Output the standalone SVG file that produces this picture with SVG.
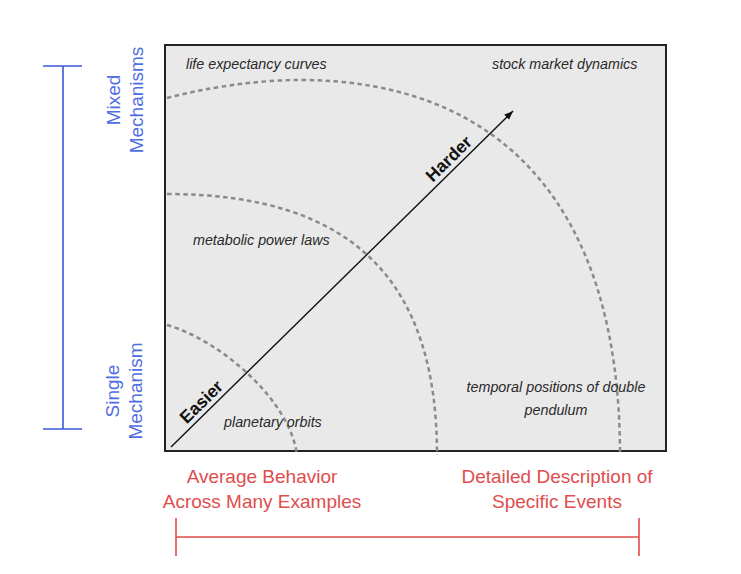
<svg xmlns="http://www.w3.org/2000/svg" width="741" height="574" viewBox="0 0 741 574">
  <style>
    .lbl { font-family: "Liberation Sans", Arial, sans-serif; font-style: italic; font-size: 14.3px; fill: #2a2a2a; }
    .blue { font-family: "Liberation Sans", Arial, sans-serif; font-size: 19px; fill: #4f6de2; }
    .red { font-family: "Liberation Sans", Arial, sans-serif; font-size: 19px; fill: #e04d4d; text-anchor: middle; }
    .dir { font-family: "Liberation Sans", Arial, sans-serif; font-weight: bold; font-size: 17.5px; fill: #111; }
    .arc { fill: none; stroke: #8a8a8a; stroke-width: 2.5; stroke-dasharray: 4.5 3.5; }
    .baxis { stroke: #3a58d8; stroke-width: 1.6; fill: none; }
    .raxis { stroke: #e04a4a; stroke-width: 1.6; fill: none; }
  </style>
  <defs>
    <marker id="ah" markerUnits="userSpaceOnUse" markerWidth="10" markerHeight="8" refX="9" refY="3.5" orient="auto">
      <path d="M0,0 L9,3.5 L0,7 z" fill="#111"/>
    </marker>
  </defs>
  <rect width="741" height="574" fill="#ffffff"/>

  <g id="plot-area">
    <rect x="165" y="45" width="501" height="406" fill="#e9e9e9" stroke="#222" stroke-width="2"/>
  </g>

  <g id="arcs">
    <path class="arc" d="M167,325 C220,340 290,400 297,455"/>
    <path class="arc" d="M167,194 C357,194 437,285 437,455"/>
    <path class="arc" d="M167,98 C205,88 255,80 300,80 C500,80 620,205 620,455"/>
  </g>

  <g id="connectors">
    <line x1="171" y1="447" x2="513" y2="111" stroke="#111" stroke-width="1.4" marker-end="url(#ah)"/>
  </g>

  <g id="direction-labels" transform="translate(171,447) rotate(-44.5)">
    <text class="dir" x="27" y="-5">Easier</text>
    <text class="dir" x="372" y="-5">Harder</text>
  </g>

  <g id="life-expectancy">
    <text class="lbl" x="186" y="69">life expectancy curves</text>
  </g>
  <g id="stock-market">
    <text class="lbl" x="492" y="69">stock market dynamics</text>
  </g>
  <g id="metabolic">
    <text class="lbl" x="193" y="245">metabolic power laws</text>
  </g>
  <g id="planetary">
    <text class="lbl" x="224" y="427">planetary orbits</text>
  </g>
  <g id="double-pendulum">
    <text class="lbl" x="556" y="392" text-anchor="middle">temporal positions of double</text>
    <text class="lbl" x="556" y="415" text-anchor="middle">pendulum</text>
  </g>

  <g id="vertical-axis">
    <line class="baxis" x1="63" y1="66" x2="63" y2="429"/>
    <line class="baxis" x1="43" y1="66" x2="82" y2="66"/>
    <line class="baxis" x1="43" y1="429" x2="82" y2="429"/>
    <text class="blue" text-anchor="middle" transform="translate(120,100) rotate(-90)">Mixed</text>
    <text class="blue" text-anchor="middle" transform="translate(143,100) rotate(-90)">Mechanisms</text>
    <text class="blue" text-anchor="middle" transform="translate(119,391) rotate(-90)">Single</text>
    <text class="blue" text-anchor="middle" transform="translate(142,391) rotate(-90)">Mechanism</text>
  </g>

  <g id="horizontal-axis">
    <line class="raxis" x1="176" y1="537" x2="639" y2="537"/>
    <line class="raxis" x1="176" y1="518" x2="176" y2="556"/>
    <line class="raxis" x1="639" y1="518" x2="639" y2="556"/>
    <text class="red" x="262" y="483">Average Behavior</text>
    <text class="red" x="262" y="508">Across Many Examples</text>
    <text class="red" x="557" y="483">Detailed Description of</text>
    <text class="red" x="557" y="508">Specific Events</text>
  </g>
</svg>
